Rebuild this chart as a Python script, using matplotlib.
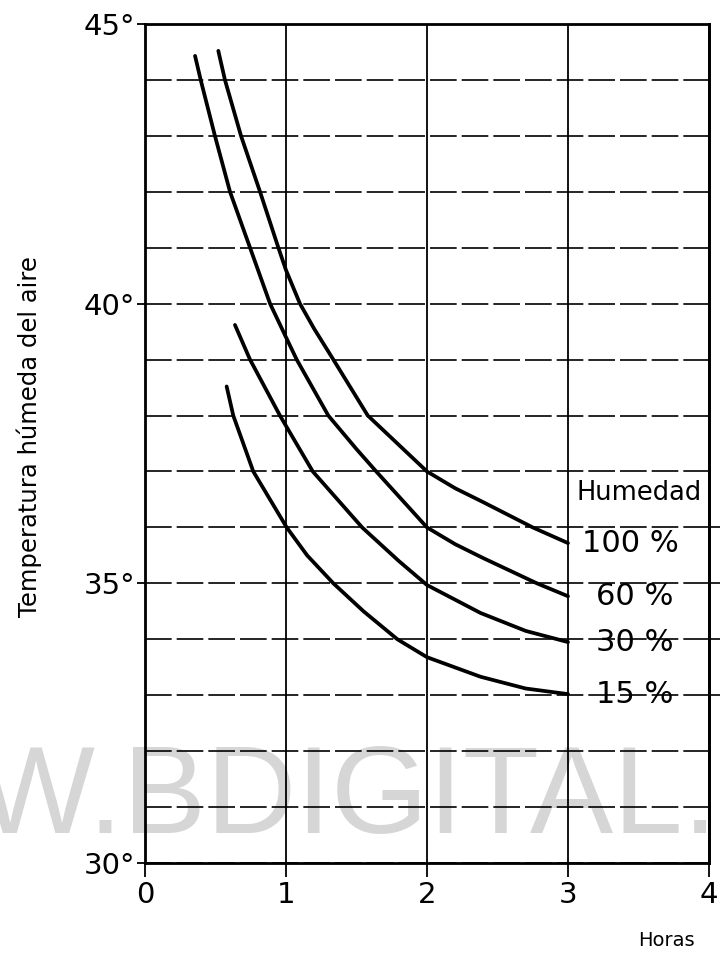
import matplotlib.pyplot as plt

# curvas: horas vs temperatura humeda, por humedad relativa
horas_100 = [0.52, 0.567, 0.681, 0.816, 0.946, 1.0, 1.099, 1.2, 1.336, 1.58, 2.0, 2.2, 2.4, 2.75, 3.0]
temp_100 = [44.52, 44.0, 43.0, 42.0, 41.0, 40.6, 40.0, 39.55, 39.0, 38.0, 37.0, 36.7, 36.45, 36.0, 35.72]

horas_60 = [0.355, 0.395, 0.496, 0.603, 0.745, 0.887, 1.0, 1.076, 1.30, 1.5, 1.64, 2.0, 2.2, 2.4, 2.78, 3.0]
temp_60 = [44.43, 44.0, 43.0, 42.0, 41.0, 40.0, 39.4, 39.0, 38.0, 37.4, 37.0, 36.0, 35.7, 35.45, 35.0, 34.77]

horas_30 = [0.638, 0.745, 0.957, 1.19, 1.54, 1.8, 2.0, 2.38, 2.7, 3.0]
temp_30 = [39.62, 39.0, 38.0, 37.0, 36.0, 35.4, 34.97, 34.47, 34.15, 33.95]

horas_15 = [0.579, 0.626, 0.768, 1.005, 1.15, 1.336, 1.55, 1.79, 2.0, 2.38, 2.7, 3.0]
temp_15 = [38.52, 38.0, 37.0, 36.0, 35.5, 35.0, 34.5, 34.0, 33.68, 33.33, 33.12, 33.02]

humedad = ['100 %', '60 %', '30 %', '15 %']
series = [(horas_100, temp_100), (horas_60, temp_60), (horas_30, temp_30), (horas_15, temp_15)]

x_ticks = [0, 1, 2, 3, 4]
y_ticks = [30, 35, 40, 45]

fig = plt.figure(figsize=(7.2, 9.57), dpi=100)
ax = fig.add_axes([0.2014, 0.0982, 0.7833, 0.8767])
ax.set_facecolor('none')

# marca de agua del escaneo
fig.text(0.997, 0.1296, 'WWW.BDIGITAL.', ha='right', va='baseline', fontsize=90,
         family='Liberation Sans', color='#d6d6d6', zorder=-1)

for (h, t), lab in zip(series, humedad):
    ax.plot(h, t, color='black', lw=2.7, solid_capstyle='round', solid_joinstyle='round', zorder=3)
    ax.text(3.2 if lab != '100 %' else 3.1, t[-1], lab, fontsize=22, va='center', ha='left')
ax.text(3.06, temp_100[-1] + 0.9, 'Humedad', fontsize=18.5, va='center', ha='left')

ax.set_xlim(0, 4)
ax.set_ylim(30, 45)
ax.set_xticks(x_ticks)
ax.set_xticklabels([str(v) for v in x_ticks], fontsize=21)
ax.set_yticks(y_ticks)
ax.set_yticklabels([f'{v}°' for v in y_ticks], fontsize=21)
ax.set_yticks(range(30, 46), minor=True)
ax.tick_params(axis='x', length=10, width=1.3, pad=3)
ax.tick_params(axis='y', which='major', length=6, width=1.3, pad=1)
ax.tick_params(axis='y', which='minor', length=0)

ax.xaxis.grid(True, color='black', lw=1.3, ls='-')
ax.yaxis.grid(True, which='both', color='black', lw=1.2, ls=(0, (16, 3)))
for s in ax.spines.values():
    s.set_linewidth(2)

ax2 = ax.twinx()
ax2.set_ylim(30, 45)
ax2.set_yticks([33, 34, 35, 36])
ax2.set_yticklabels([])
ax2.tick_params(axis='y', length=8, width=1.2)
ax2.spines['right'].set_linewidth(2)

ax.set_ylabel('Temperatura húmeda del aire', fontsize=17.5)
ax.yaxis.set_label_coords(-0.182, 0.508)
fig.text(666 / 720, 1 - 940 / 957, 'Horas', ha='center', va='center', fontsize=14)

fig.savefig('out.png', dpi=100)
